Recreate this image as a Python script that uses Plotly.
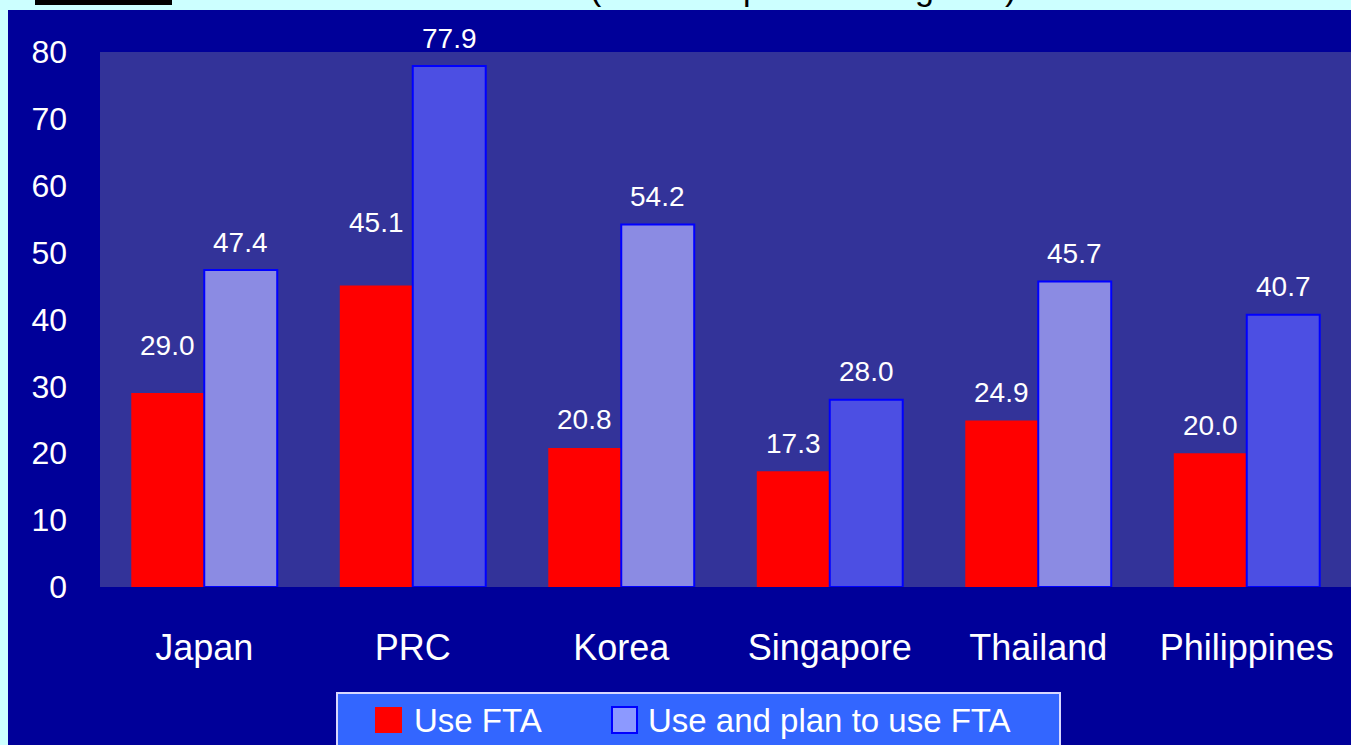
import plotly.graph_objects as go

# ---------------- data ----------------
categories = ["Japan", "PRC", "Korea", "Singapore", "Thailand", "Philippines"]
use_fta = [29.0, 45.1, 20.8, 17.3, 24.9, 20.0]
use_and_plan_fta = [47.4, 77.9, 54.2, 28.0, 45.7, 40.7]
y_tick_values = [0, 10, 20, 30, 40, 50, 60, 70, 80]
series_names = ["Use FTA", "Use and plan to use FTA"]
title_text = "(% of companies using FTA)"

# ---------------- style ----------------
W, H = 1351, 745
ML, MR, MT, MB = 100, 0, 52, 158
FONT = "Liberation Sans, Arial, sans-serif"
PAPER_BG = "#000099"
PLOT_BG = "#333399"
CYAN = "#CCFFFF"
RED = "#FF0000"
LIGHT = "#8B8BE3"
DARK = "#4C4FE3"
second_colors = [LIGHT, DARK, LIGHT, DARK, LIGHT, DARK]
BARGAP = 0.30

PW = W - ML - MR
PH = H - MT - MB


def px_x(px):
    return (px - ML) / PW


def px_y(py):
    return (H - MB - py) / PH


fig = go.Figure()
fig.add_trace(go.Bar(
    x=categories, y=use_fta, name=series_names[0],
    marker=dict(color=RED, line=dict(width=0)),
    showlegend=False, hoverinfo="x+y",
))
fig.add_trace(go.Bar(
    x=categories, y=use_and_plan_fta, name=series_names[1],
    marker=dict(color=second_colors, line=dict(color="#0000FF", width=2)),
    showlegend=False, hoverinfo="x+y",
))

# value labels
cat_px = PW / len(categories)
bar_px = cat_px * (1 - BARGAP) / 2
extra_shift = {(0, 0): 20, (0, 1): 35}
annotations = []
for s, vals in enumerate([use_fta, use_and_plan_fta]):
    off = -bar_px / 2 if s == 0 else bar_px / 2
    for i, (c, v) in enumerate(zip(categories, vals)):
        annotations.append(dict(
            x=c, y=v, xref="x", yref="y", text=f"{v:.1f}", showarrow=False,
            xshift=off, yshift=28 + extra_shift.get((s, i), 0), yanchor="middle",
            font=dict(family=FONT, size=28, color="white"),
        ))

# custom legend texts
annotations.append(dict(
    x=px_x(412), y=px_y(720), xref="paper", yref="paper", text=series_names[0],
    showarrow=False, xanchor="left", yanchor="middle",
    font=dict(family=FONT, size=33, color="white"),
))
annotations.append(dict(
    x=px_x(646), y=px_y(720), xref="paper", yref="paper", text=series_names[1],
    showarrow=False, xanchor="left", yanchor="middle",
    font=dict(family=FONT, size=33, color="white"),
))
# cut-off title at top (as in the reference, only its lower part is visible)
annotations.append(dict(
    x=px_x(803), y=px_y(9), xref="paper", yref="paper", text=title_text,
    showarrow=False, xanchor="center", yanchor="bottom",
    font=dict(family=FONT, size=34, color="black"),
))

shapes = [
    # cyan strips
    dict(type="rect", xref="paper", yref="paper", x0=px_x(-5), x1=px_x(W + 5),
         y0=px_y(10), y1=px_y(-5), fillcolor=CYAN, line=dict(width=0), layer="above"),
    dict(type="rect", xref="paper", yref="paper", x0=px_x(-5), x1=px_x(8),
         y0=px_y(H + 5), y1=px_y(-5), fillcolor=CYAN, line=dict(width=0), layer="above"),
    # black bar at top-left
    dict(type="rect", xref="paper", yref="paper", x0=px_x(35), x1=px_x(172),
         y0=px_y(5), y1=px_y(-2), fillcolor="black", line=dict(width=0), layer="above"),
    # legend box
    dict(type="rect", xref="paper", yref="paper", x0=px_x(337), x1=px_x(1060),
         y0=px_y(H + 10), y1=px_y(693), fillcolor="#3366FF",
         line=dict(color="#D8D8FF", width=2), layer="above"),
    dict(type="rect", xref="paper", yref="paper", x0=px_x(375), x1=px_x(402),
         y0=px_y(733), y1=px_y(707), fillcolor=RED, line=dict(width=0), layer="above"),
    dict(type="rect", xref="paper", yref="paper", x0=px_x(612), x1=px_x(637),
         y0=px_y(733), y1=px_y(707), fillcolor="#8C99FF",
         line=dict(color="#0000FF", width=2), layer="above"),
]

fig.update_layout(
    width=W, height=H, autosize=False,
    margin=dict(l=ML, r=MR, t=MT, b=MB, pad=0),
    paper_bgcolor=PAPER_BG, plot_bgcolor=PLOT_BG,
    barmode="group", bargap=BARGAP, bargroupgap=0,
    font=dict(family=FONT, color="white"),
    showlegend=False,
    annotations=annotations, shapes=shapes,
    xaxis=dict(showgrid=False, zeroline=False, showline=False, ticks="",
               tickfont=dict(family=FONT, size=36, color="white"),
               ticklabelstandoff=36),
    yaxis=dict(range=[0, 80], tickvals=y_tick_values, showgrid=False, zeroline=False,
               showline=False, ticks="", tickfont=dict(family=FONT, size=32, color="white"),
               ticklabelstandoff=32),
)

fig.write_html(
    "out.html",
    config={"displayModeBar": False},
    post_script="document.body.style.margin='0';document.body.style.overflow='hidden';",
)
